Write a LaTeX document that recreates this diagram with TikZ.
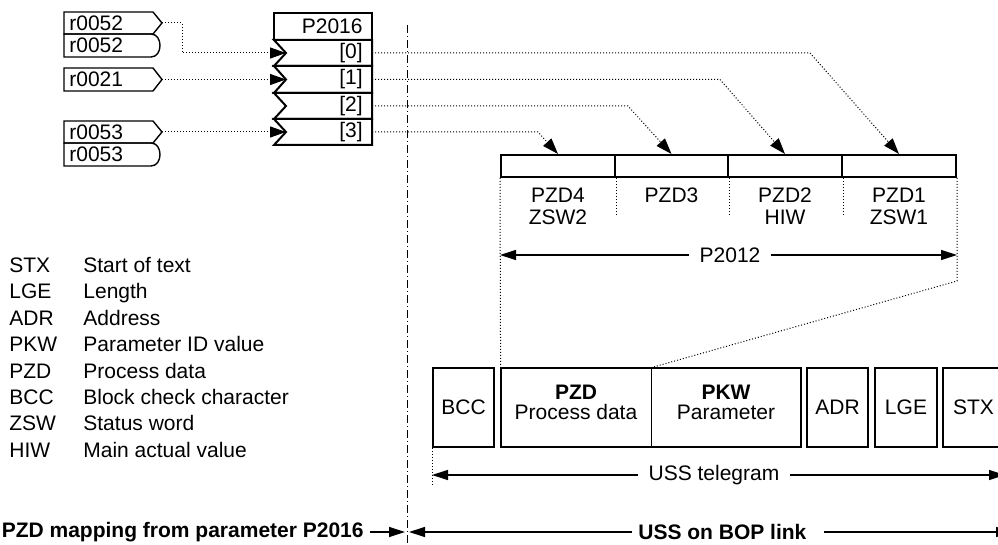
\documentclass[tikz,border=0pt]{standalone}
\usepackage{fontspec}
\setmainfont{Liberation Sans}
\usetikzlibrary{arrows.meta,calc}

\begin{document}
\begin{tikzpicture}[x=0.5pt,y=-0.5pt,
  every node/.style={font=\fontsize{10.5}{11}\selectfont, inner sep=0pt},
  box/.style={draw, line width=1pt},
  tagline/.style={draw, line width=0.7pt},
  tcell/.style={box, minimum height=39.5pt},
  link/.style={line width=0.5pt, dash pattern=on 0.5pt off 1pt, -{Triangle[length=8pt,width=5.5pt]}},
  guide/.style={line width=0.5pt, dash pattern=on 0.5pt off 1pt},
  dim/.style={line width=0.6pt, -{Triangle[length=8pt,width=5pt]}},
  sepline/.style={line width=0.5pt, dash pattern=on 4pt off 1.5pt on 0.5pt off 1.5pt}]
% Coordinate model: pixel grid of the 998 x 545 sheet, y running downwards.
\def\tx{64}  % left edge of the source tags
\def\bx{274} % left edge of the P2016 block
\useasboundingbox (0,0) rectangle (998,545);

% --- source tags ---
\draw[tagline] (\tx,12) -- (153,12) -- (162,23) -- (153,34) -- (\tx,34) -- cycle;
\draw[tagline] (\tx,34) -- (151,34) .. controls (163,34) and (163,57) .. (151,57) -- (\tx,57) -- cycle;
\node[anchor=west] (r52a) at (69,23) {r0052};
\node[anchor=west] (r52b) at (69,45.5) {r0052};
\coordinate (r52out) at (162,23);

\draw[tagline] (\tx,68) -- (153,68) -- (162,79.5) -- (153,91) -- (\tx,91) -- cycle;
\node[anchor=west] (r21) at (69,79.5) {r0021};
\coordinate (r21out) at (162,79.5);

\draw[tagline] (\tx,121) -- (153,121) -- (162,132) -- (153,143) -- (\tx,143) -- cycle;
\draw[tagline] (\tx,143) -- (151,143) .. controls (163,143) and (163,166) .. (151,166) -- (\tx,166) -- cycle;
\node[anchor=west] (r53a) at (69,132) {r0053};
\node[anchor=west] (r53b) at (69,154.5) {r0053};
\coordinate (r53out) at (162,132);

% --- P2016 index block ---
\draw[box] (\bx,13) rectangle (372,40);
\node[anchor=east] (p2016) at (363,26.5) {P2016};
\draw[box] (\bx,40) -- (372,40) -- (372,66) -- (\bx,66) -- (286,53) -- cycle;
\draw[box] (\bx,66) -- (372,66) -- (372,93) -- (\bx,93) -- (286,79.5) -- cycle;
\draw[box] (\bx,93) -- (372,93) -- (372,119) -- (\bx,119) -- (286,106) -- cycle;
\draw[box] (\bx,119) -- (372,119) -- (372,145) -- (\bx,145) -- (286,132) -- cycle;
\node[anchor=east] (idx0) at (363,53) {[0]};
\node[anchor=east] (idx1) at (363,79.5) {[1]};
\node[anchor=east] (idx2) at (363,106) {[2]};
\node[anchor=east] (idx3) at (363,132) {[3]};
\coordinate (in0) at (286,53);
\coordinate (in1) at (286,79.5);
\coordinate (in3) at (286,132);
\coordinate (out0) at (372,53);
\coordinate (out1) at (372,79.5);
\coordinate (out2) at (372,106);
\coordinate (out3) at (372,132);

% --- tags into P2016 ---
\draw[link] (r52out) -- ++(20,0) |- (in0);
\draw[link] (r21out) -- (in1);
\draw[link] (r53out) -- (in3);

% --- separator ---
\coordinate (sepTop) at (407,25);
\coordinate (sepBot) at (407,545);
\draw[sepline] (sepTop) -- (sepBot);

% --- PZD words ---
\node[box, minimum width=57pt, minimum height=11pt] (pzd4) at (558,166) {};
\node[box, minimum width=56.5pt, minimum height=11pt] (pzd3) at (671.5,166) {};
\node[box, minimum width=57pt, minimum height=11pt] (pzd2) at (785,166) {};
\node[box, minimum width=57pt, minimum height=11pt] (pzd1) at (899,166) {};
\node[align=center] (lb4) at (558,206) {PZD4\\ZSW2};
\node (lb3) at (671.5,195) {PZD3};
\node[align=center] (lb2) at (785,206) {PZD2\\HIW};
\node[align=center] (lb1) at (899,206) {PZD1\\ZSW1};

% --- P2016 into PZD words ---
\draw[link] (out0) -- (810,53) -- (pzd1.north);
\draw[link] (out1) -- (720,79.5) -- (pzd2.north);
\draw[link] (out2) -- (628,106) -- (pzd3.north);
\draw[link] (out3) -- (538,132) -- (pzd4.north);

% --- P2012 span ---
\node[inner xsep=5pt] (p2012) at (730,255) {P2012};
\draw[dim] (p2012.west) -- (p2012.west -| pzd4.south west);
\draw[dim] (p2012.east) -- (p2012.east -| pzd1.south east);

% --- USS telegram ---
\node[tcell, minimum width=30.5pt] (bcc) at (463.5,407.5) {BCC};
\node[minimum width=75pt, minimum height=39.5pt] (pzd) at (576,407.5) {};
\node[minimum width=75pt, minimum height=39.5pt] (pkw) at (726,407.5) {};
\draw[box] (pzd.north west) rectangle (pkw.south east);
\draw[line width=0.5pt] (pzd.north east) -- (pzd.south east);
\node[align=center] (pzdtxt) at ([yshift=2.75pt]pzd.center) {\textbf{PZD}\\[-1pt]Process data};
\node[align=center] (pkwtxt) at ([yshift=2.75pt]pkw.center) {\textbf{PKW}\\[-1pt]Parameter};
\node[tcell, minimum width=30.5pt] (adr) at (837.5,407.5) {ADR};
\node[tcell, minimum width=31pt] (lge) at (906,407.5) {LGE};
\node[tcell, minimum width=30.5pt] (stx) at (973.5,407.5) {STX};

% --- guides ---
\draw[guide] (pzd4.south west) -- (pzd.north west);
\draw[guide] (pzd4.south east) -- ++(0,38);
\draw[guide] (pzd3.south east) -- ++(0,38);
\draw[guide] (pzd2.south east) -- ++(0,38);
\draw[guide] (pzd1.south east) -- ++(0,103) -- (pzd.north east);
\draw[guide] (bcc.south west) -- ++(0,38);

\node[inner xsep=5pt] (uss) at (714,475) {USS telegram};
\draw[dim] (uss.west) -- (uss.west -| bcc.south west);
\draw[dim] (uss.east) -- (uss.east -| stx.south east);

% --- bottom spans ---
\node[anchor=east, inner xsep=3pt] (map) at (370,532) {\textbf{PZD mapping from parameter P2016}};
\draw[dim, shorten >=1pt] (map.east) -- (map.east -| sepTop);
\node[anchor=west, inner xsep=3pt] (bop) at (632,532) {\textbf{USS on BOP link}};
\coordinate (bopR) at (1012,532);
\draw[dim, shorten >=1pt] (bop.west) -- (bop.west -| sepTop);
\draw[dim] ([xshift=5.5pt]bop.east) -- (bopR);

% --- legend ---
\node[anchor=base west] (kSTX) at (9,272.5) {STX};
\node[anchor=base west] (dSTX) at (83,272.5) {Start of text};
\node[anchor=base west] (kLGE) at (9,298.9) {LGE};
\node[anchor=base west] (dLGE) at (83,298.9) {Length};
\node[anchor=base west] (kADR) at (9,325.3) {ADR};
\node[anchor=base west] (dADR) at (83,325.3) {Address};
\node[anchor=base west] (kPKW) at (9,351.7) {PKW};
\node[anchor=base west] (dPKW) at (83,351.7) {Parameter ID value};
\node[anchor=base west] (kPZD) at (9,378.1) {PZD};
\node[anchor=base west] (dPZD) at (83,378.1) {Process data};
\node[anchor=base west] (kBCC) at (9,404.5) {BCC};
\node[anchor=base west] (dBCC) at (83,404.5) {Block check character};
\node[anchor=base west] (kZSW) at (9,430.9) {ZSW};
\node[anchor=base west] (dZSW) at (83,430.9) {Status word};
\node[anchor=base west] (kHIW) at (9,457.3) {HIW};
\node[anchor=base west] (dHIW) at (83,457.3) {Main actual value};
\end{tikzpicture}
\end{document}
